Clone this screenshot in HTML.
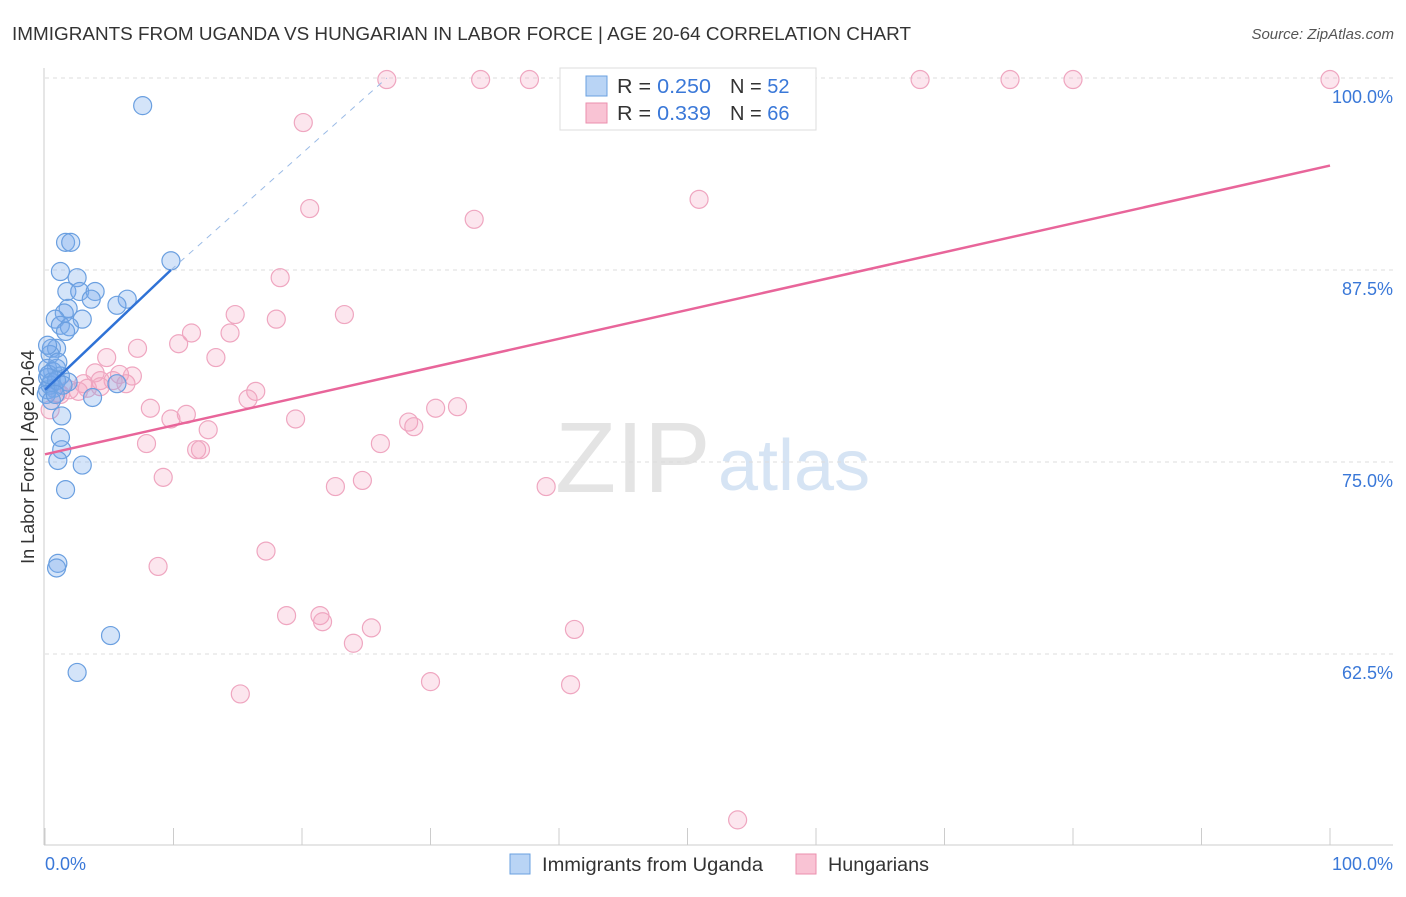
<!DOCTYPE html>
<html><head><meta charset="utf-8"><style>
body{margin:0;background:#fff;font-family:"Liberation Sans",sans-serif;}
svg text{font-family:"Liberation Sans",sans-serif;}
</style></head><body>
<svg id="chart" width="1406" height="892" xmlns="http://www.w3.org/2000/svg">
<text x="12" y="40" font-size="18" fill="#333" textLength="899" lengthAdjust="spacingAndGlyphs">IMMIGRANTS FROM UGANDA VS HUNGARIAN IN LABOR FORCE | AGE 20-64 CORRELATION CHART</text>
<text x="1394" y="39" font-size="15" fill="#555" font-style="italic" text-anchor="end">Source: ZipAtlas.com</text>
<text x="555" y="492" font-size="100" fill="#e4e4e4" font-family="Liberation Serif">ZIP</text>
<text x="718" y="490" font-size="72" fill="#d6e4f4">atlas</text>
<g id="grid"></g>
<line x1="44" y1="68" x2="44" y2="845" stroke="#ccc"/>
<line x1="44" y1="845" x2="1393" y2="845" stroke="#ccc"/>
<text transform="translate(34,457) rotate(-90)" font-size="18" fill="#333" text-anchor="middle">In Labor Force | Age 20-64</text>
<text x="45" y="870" font-size="18" fill="#3a78d8">0.0%</text>
<text x="1393" y="870" font-size="18" fill="#3a78d8" text-anchor="end">100.0%</text>
<g id="marks"></g>
<g>
<rect x="560" y="68" width="256" height="62" fill="#fff" stroke="#ddd"/>
<rect x="586" y="76" width="21" height="20" fill="#b9d4f5" stroke="#6aa0e0"/>
<rect x="586" y="103" width="21" height="20" fill="#f9c3d4" stroke="#eb8fae"/>
<text x="617" y="93" font-size="20" fill="#333" textLength="94" lengthAdjust="spacingAndGlyphs">R = <tspan fill="#3a78d8">0.250</tspan></text>
<text x="730" y="93" font-size="20" fill="#333">N = <tspan fill="#3a78d8">52</tspan></text>
<text x="617" y="120" font-size="20" fill="#333" textLength="94" lengthAdjust="spacingAndGlyphs">R = <tspan fill="#3a78d8"> 0.339</tspan></text>
<text x="730" y="120" font-size="20" fill="#333">N = <tspan fill="#3a78d8">66</tspan></text>
</g>
<g><rect x="510" y="854" width="20" height="20" fill="#b9d4f5" stroke="#6aa0e0"/><text x="542" y="871" font-size="19" fill="#333" textLength="221" lengthAdjust="spacingAndGlyphs">Immigrants from Uganda</text></g>
<g><rect x="796" y="854" width="20" height="20" fill="#f9c3d4" stroke="#eb8fae"/><text x="828" y="871" font-size="19" fill="#333" textLength="101" lengthAdjust="spacingAndGlyphs">Hungarians</text></g>
</svg>
<script>
const yTicks=[100,87.5,75,62.5];
const yTickLabels=["100.0%","87.5%","75.0%","62.5%"];
const xTicks=[0,10,20,30,40,50,60,70,80,90,100];
const ugandaX=[7.6,1.6,2.0,1.2,2.5,1.7,2.7,3.9,3.6,6.4,5.6,1.8,1.5,0.8,2.9,1.2,1.9,1.6,0.5,0.9,0.4,0.2,0.9,0.6,0.2,1.2,0.5,1.8,0.7,0.2,3.7,5.6,1.3,1.2,1.3,1.0,2.9,1.6,1.0,0.9,5.1,2.5,9.8,0.4,0.1,0.9,0.3,1.4,0.5,1.0,0.2,0.8];
const ugandaY=[98.2,89.3,89.3,87.4,87.0,86.1,86.1,86.1,85.6,85.6,85.2,85.0,84.7,84.3,84.3,83.9,83.8,83.5,82.4,82.4,82.0,81.1,81.1,80.9,80.5,80.6,80.2,80.2,79.8,79.7,79.2,80.1,78.0,76.6,75.8,75.1,74.8,73.2,68.4,68.1,63.7,61.3,88.1,80.0,79.4,80.3,80.7,80.0,79.0,81.5,82.6,79.4];
const hungX=[26.6,33.9,37.7,68.1,75.1,80.0,100,20.1,20.6,33.4,50.9,18.3,14.8,18.0,23.3,11.4,10.4,14.4,7.2,4.8,13.3,3.9,5.8,6.8,4.3,5.3,6.3,3.0,3.3,1.9,2.6,1.0,0.4,16.4,15.8,8.2,11.0,9.8,12.7,19.5,28.3,28.7,30.4,32.1,7.9,11.8,12.1,26.1,9.2,22.6,24.7,39.0,17.2,8.8,18.8,21.4,21.6,25.4,24.0,41.2,30.0,40.9,15.2,53.9,1.2,4.3];
const hungY=[99.9,99.9,99.9,99.9,99.9,99.9,99.9,97.1,91.5,90.8,92.1,87.0,84.6,84.3,84.6,83.4,82.7,83.4,82.4,81.8,81.8,80.8,80.7,80.6,80.3,80.3,80.1,80.1,79.8,79.7,79.6,79.5,78.4,79.6,79.1,78.5,78.1,77.8,77.1,77.8,77.6,77.3,78.5,78.6,76.2,75.8,75.8,76.2,74.0,73.4,73.8,73.4,69.2,68.2,65.0,65.0,64.6,64.2,63.2,64.1,60.7,60.5,59.9,51.7,79.4,79.9];
const ugandaTrend=[0,79.7,9.8,87.5];
const ugandaTrendExt=[9.8,87.5,26.6,100];
const hungTrend=[0,75.5,100,94.3];
const sx=v=>45+v*12.85, sy=v=>78+(100-v)*15.36;
const NS="http://www.w3.org/2000/svg";
const grid=document.getElementById('grid'), marks=document.getElementById('marks');
function mk(tag,attrs,parent){const e=document.createElementNS(NS,tag);for(const k in attrs)e.setAttribute(k,attrs[k]);parent.appendChild(e);return e;}
yTicks.forEach((t,i)=>{
 const l=mk('line',{x1:45,x2:1393,y1:sy(t),y2:sy(t),stroke:'#ddd','stroke-dasharray':'4,4'},grid);
 
 
 const tx=mk('text',{x:1393,y:sy(t)+25,'font-size':18,fill:'#3a78d8','text-anchor':'end'},grid);
 tx.textContent=yTickLabels[i];
 
 
});
xTicks.forEach(t=>{
 const l=mk('line',{x1:sx(t),x2:sx(t),y1:828,y2:845,stroke:'#ccc'},grid);
 
 
});
for(let i=0;i<hungX.length;i++){
 const c=mk('circle',{cx:sx(hungX[i]),cy:sy(hungY[i]),r:9,fill:'rgba(244,165,195,0.28)',stroke:'#efa6c0','stroke-width':1.2},marks);
 
 
}
for(let i=0;i<ugandaX.length;i++){
 const c=mk('circle',{cx:sx(ugandaX[i]),cy:sy(ugandaY[i]),r:9,fill:'rgba(120,170,235,0.32)',stroke:'#6a9fe0','stroke-width':1.2},marks);
 
 
}
let l1=mk('line',{x1:sx(hungTrend[0]),y1:sy(hungTrend[1]),x2:sx(hungTrend[2]),y2:sy(hungTrend[3]),stroke:'#e8659a','stroke-width':2.5},marks);


let l2=mk('line',{x1:sx(ugandaTrend[0]),y1:sy(ugandaTrend[1]),x2:sx(ugandaTrend[2]),y2:sy(ugandaTrend[3]),stroke:'#2f72d6','stroke-width':2.5},marks);


let l3=mk('line',{x1:sx(ugandaTrendExt[0]),y1:sy(ugandaTrendExt[1]),x2:sx(ugandaTrendExt[2]),y2:sy(ugandaTrendExt[3]),stroke:'#9bbbe6','stroke-width':1,'stroke-dasharray':'6,6'},marks);


</script>
</body></html>
